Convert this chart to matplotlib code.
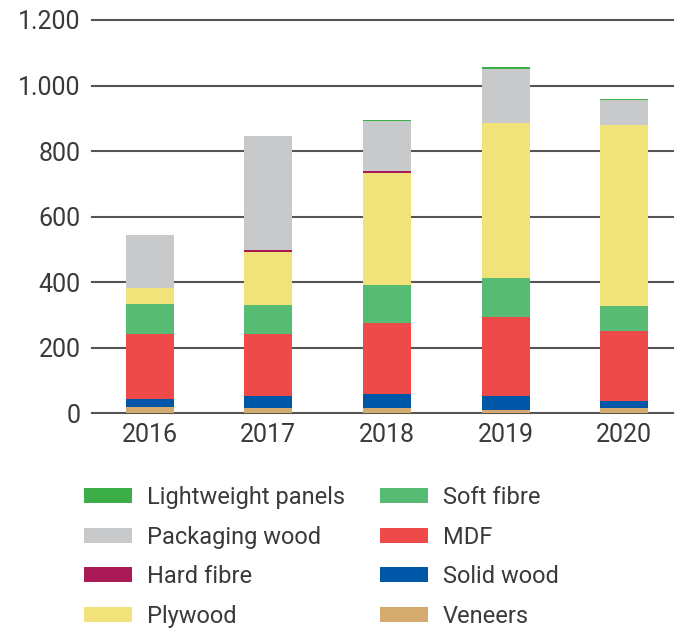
import numpy as np
import matplotlib
matplotlib.use("Agg")
import matplotlib.pyplot as plt
from matplotlib.ticker import FuncFormatter

plt.rcParams['font.family'] = ['Roboto', 'DejaVu Sans']

# ── Data ────────────────────────────────────────────────────────────
years = ["2016", "2017", "2018", "2019", "2020"]

veneers     = [20, 15, 15, 10, 15]
solid_wood  = [24, 39, 43, 43, 23]
mdf         = [199, 189, 216, 241, 213]
soft_fibre  = [92, 87, 116, 119, 75]
plywood     = [46, 163, 343, 473, 554]
hard_fibre  = [0, 5, 6, 0, 0]
packaging   = [163, 347, 152, 166, 75]
lightweight = [0, 0, 3, 5, 4]

# stacking order bottom -> top
series = [
    ("Veneers",            veneers,     "#d4aa6e"),
    ("Solid wood",         solid_wood,  "#0057a8"),
    ("MDF",                mdf,         "#ef4a4a"),
    ("Soft fibre",         soft_fibre,  "#57bb73"),
    ("Plywood",            plywood,     "#f1e27a"),
    ("Hard fibre",         hard_fibre,  "#a91a57"),
    ("Packaging wood",     packaging,   "#c8c9cb"),
    ("Lightweight panels", lightweight, "#3cae49"),
]

text_col = "#3a3a3a"

fig = plt.figure(figsize=(6.79, 6.35), dpi=100)
ax = fig.add_axes([92/679, 1 - 413.3/635, (673 - 92)/679, (413.3 - 20)/635])

x = np.arange(len(years))
bottom = np.zeros(len(years))
handles = {}
for name, vals, col in series:
    b = ax.bar(x, vals, width=0.405, bottom=bottom, color=col,
               edgecolor="none", zorder=3, label=name)
    handles[name] = b
    bottom += np.array(vals)

# gridlines
for yv in range(0, 1201, 200):
    ax.axhline(yv, color="#555555", lw=1.5, zorder=1, clip_on=False)

ax.set_ylim(0, 1200)
ax.set_xlim(-0.485, 4.41)
ax.set_yticks(range(0, 1201, 200))
ax.yaxis.set_major_formatter(FuncFormatter(lambda v, p: f"{int(v):,}".replace(",", ".")))
ax.set_xticks(x)
ax.set_xticklabels(years)
ax.tick_params(axis="both", length=0, labelsize=18, colors=text_col)
ax.tick_params(axis="y", pad=8)
ax.tick_params(axis="x", pad=7)
for s in ax.spines.values():
    s.set_visible(False)

# ── Legend: two columns ─────────────────────────────────────────────
col1 = ["Lightweight panels", "Packaging wood", "Hard fibre", "Plywood"]
col2 = ["Soft fibre", "MDF", "Solid wood", "Veneers"]
fs = 17
leg_kw = dict(loc="upper left", frameon=False, fontsize=fs,
              handlelength=48/(fs*100/72), handleheight=14/(fs*100/72),
              handletextpad=15/(fs*100/72),
              labelspacing=0.7, borderpad=0, borderaxespad=0,
              labelcolor=text_col)
fig.legend([handles[n] for n in col1], col1,
           bbox_to_anchor=(84/679, 1 - 486/635), **leg_kw)
fig.legend([handles[n] for n in col2], col2,
           bbox_to_anchor=(380/679, 1 - 486/635), **leg_kw)

fig.savefig("out.png", dpi=100)
